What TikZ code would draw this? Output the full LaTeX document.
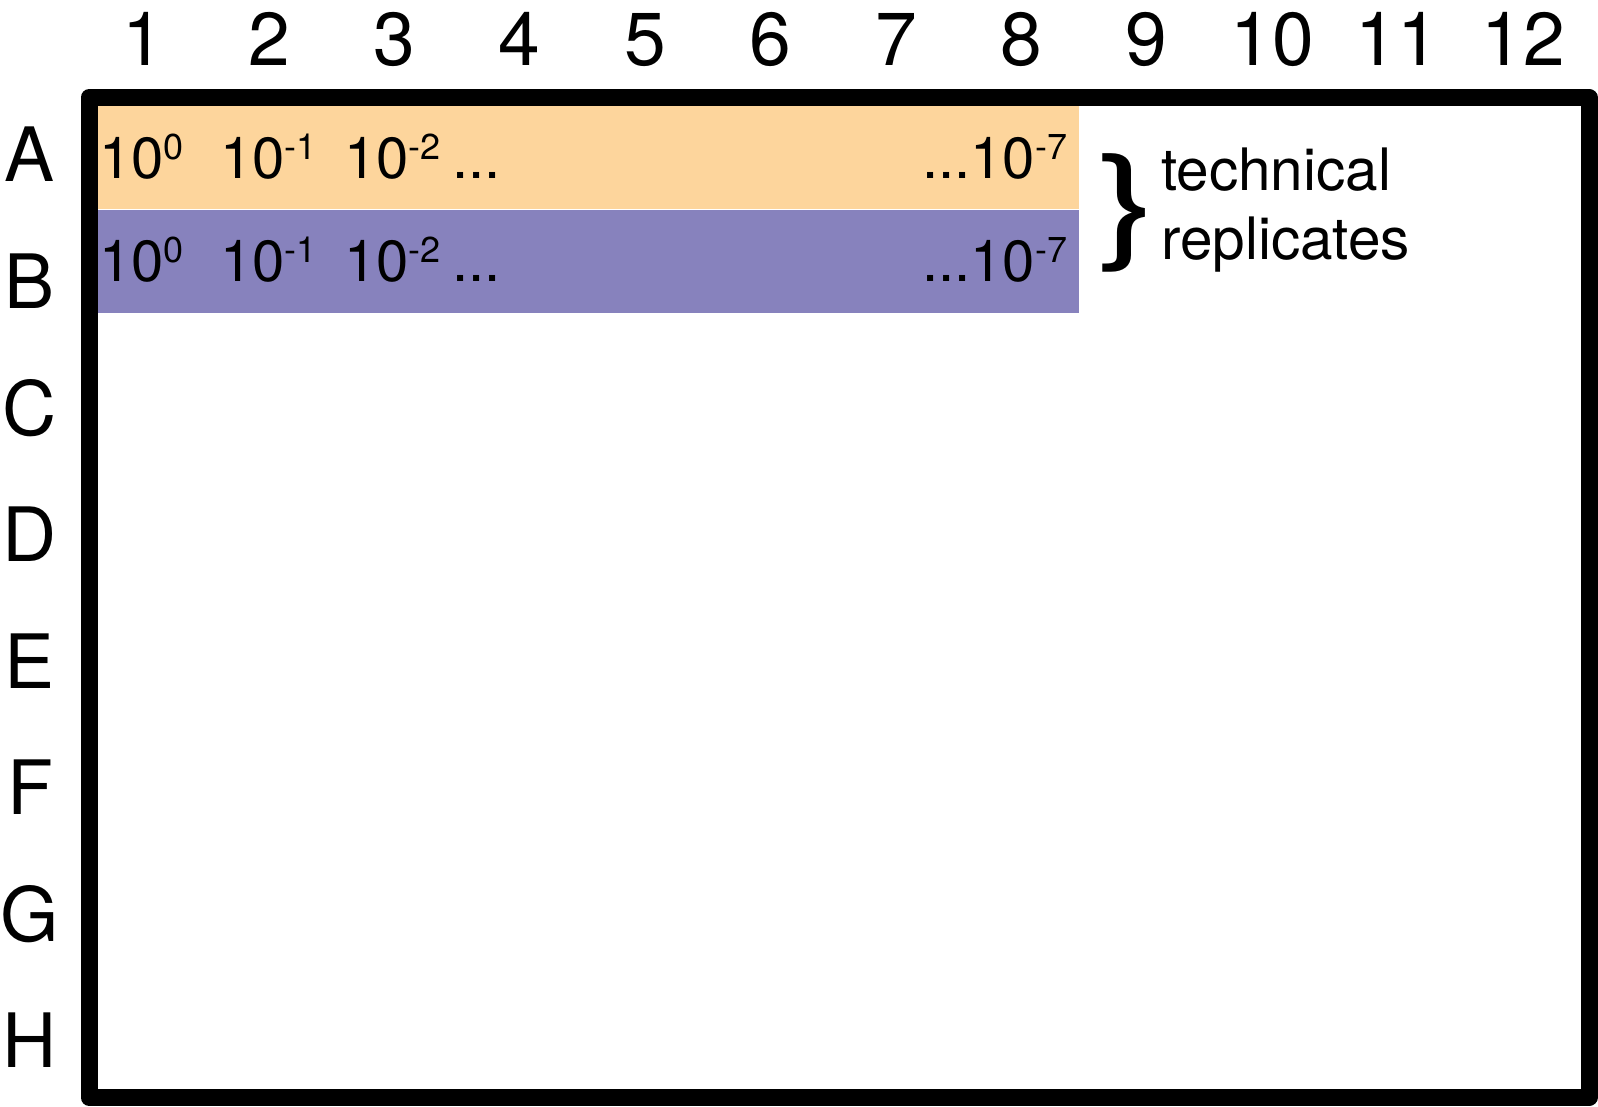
\documentclass[tikz,border=0pt]{standalone}
\usepackage{fontspec}
\setmainfont{TeX Gyre Heros}
\definecolor{bandA}{RGB}{253,213,156}
\definecolor{bandB}{RGB}{135,130,189}
\newcommand\fsz[1]{\fontsize{#1}{#1}\selectfont}
\newcommand\spx[1]{\raisebox{19pt}{\fsz{36}#1}}
\begin{document}
\begin{tikzpicture}[x=1pt,y=-1pt,
  colnum/.style={anchor=base, inner sep=0pt, font=\fsz{75}},
  rowlab/.style={anchor=base, inner sep=0pt, font=\fsz{75}},
  dil/.style={anchor=base west, inner sep=0pt, font=\fsz{58}},
  band/.style={anchor=north west, inner sep=0pt, outer sep=0pt, minimum width=982pt, minimum height=103pt},
  note/.style={anchor=base west, inner sep=0pt, font=\fsz{58.5}}]
\useasboundingbox (0,0) rectangle (1598,1107);
% bands
\node[band, fill=bandA] (bandA) at (97,106) {};
\node[band, fill=bandB] (bandB) at (97,210) {};
% frame
\draw[line width=17pt, line join=round] (89,97.5) rectangle (1589,1097.5);
% column numbers
\foreach \i in {1,...,12}
  \node[colnum] (c\i) at ({143.6+125.4*(\i-1)},66) {\i};
% row letters
\foreach \l [count=\k from 0] in {A,B,C,D,E,F,G,H}
  \node[rowlab] (r\l) at (30,{182+126.57*\k}) {\l};
% dilutions row A
\node[dil] (a1) at (99,179) {10\spx{0}};
\node[dil] (a2) at (220,179) {10\spx{-1}};
\node[dil] (a3) at (344,179) {10\spx{-2}};
\node[dil] (a4) at (452,179) {...};
\node[dil] (a8) at (922,179) {...10\spx{-7}};
% dilutions row B
\node[dil] (b1) at (99,282) {10\spx{0}};
\node[dil] (b2) at (220,282) {10\spx{-1}};
\node[dil] (b3) at (344,282) {10\spx{-2}};
\node[dil] (b4) at (452,282) {...};
\node[dil] (b8) at (922,282) {...10\spx{-7}};
% brace and note
\node[anchor=base west, inner sep=0pt, font=\fsz{126}] (brace) at (1097,246) {\scalebox{1.45}[1]{\}}};
\node[note] (tech) at (1161,191) {technical};
\node[note] (repl) at (1161,260) {replicates};
\end{tikzpicture}
\end{document}
